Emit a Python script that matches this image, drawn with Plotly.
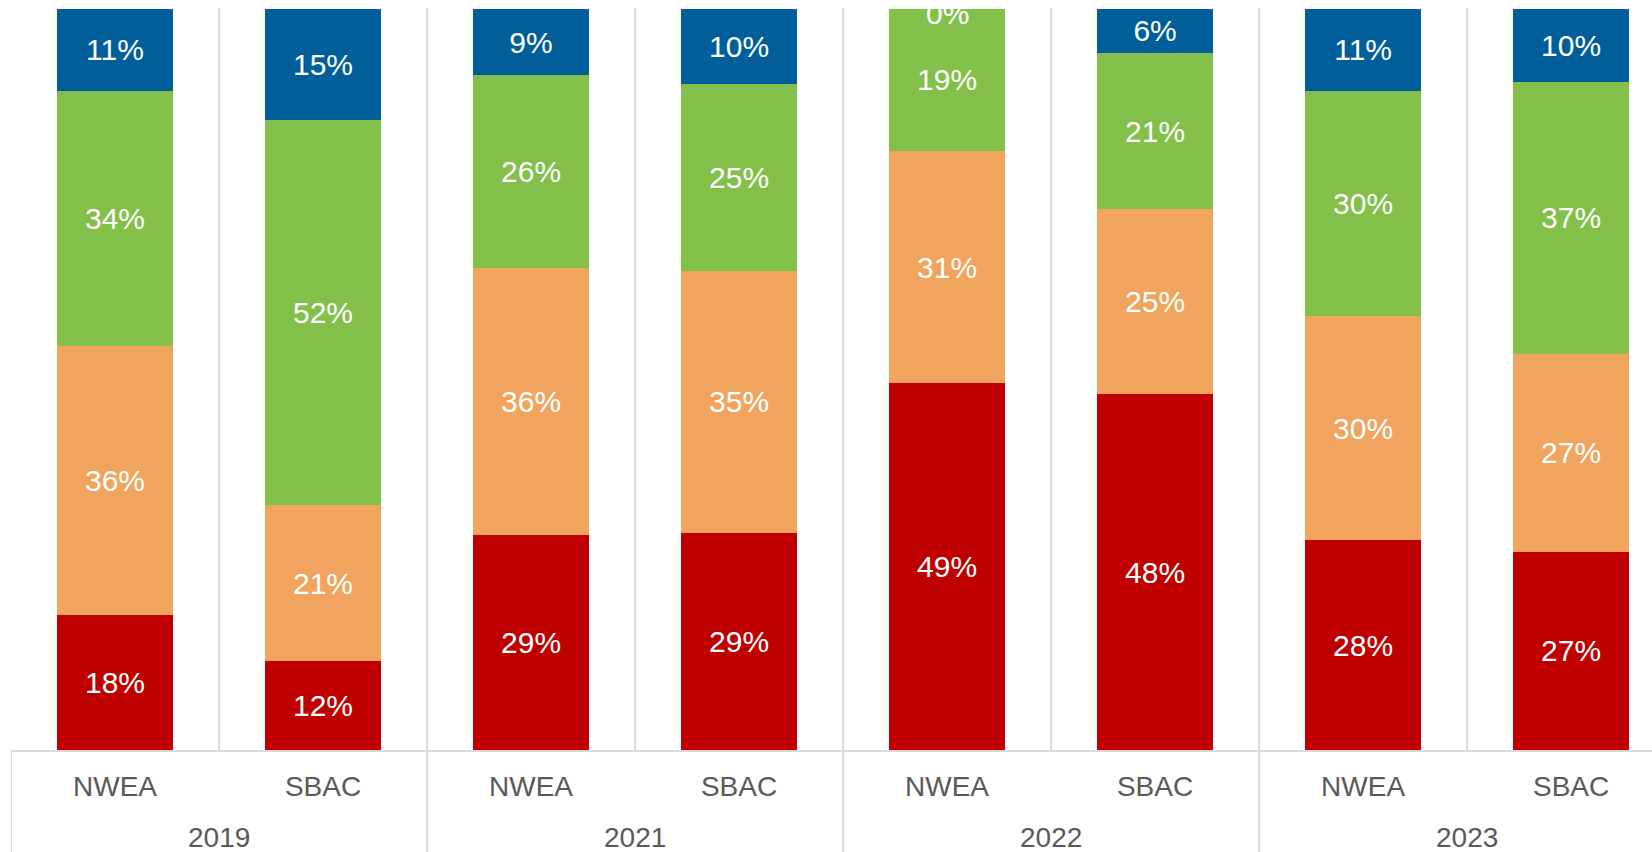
import plotly.graph_objects as go

# year / test pairs for the two-level x axis
years = ["2019", "2019", "2021", "2021", "2022", "2022", "2023", "2023"]
tests = ["NWEA", "SBAC", "NWEA", "SBAC", "NWEA", "SBAC", "NWEA", "SBAC"]

# share of students per level, bottom to top
red = [18, 12, 29, 29, 49, 48, 28, 27]
orange = [36, 21, 36, 35, 31, 25, 30, 27]
green = [34, 52, 26, 25, 19, 21, 30, 37]
blue = [11, 15, 9, 10, 0, 6, 11, 10]

colors = ["#C00000", "#F0A45E", "#82C04A", "#005E9B"]
font = "Liberation Sans, Arial, sans-serif"
cats = [f"{y} {t}" for y, t in zip(years, tests)]

fig = go.Figure()
for vals, col in zip([red, orange, green, blue], colors):
    fig.add_trace(go.Bar(
        x=cats,
        y=vals,
        marker=dict(color=col, line=dict(width=0)),
        text=[f"{v}%" if v > 0 else "" for v in vals],
        textposition="inside",
        insidetextanchor="middle",
        textangle=0,
        textfont=dict(color="white", size=30, family=font),
        cliponaxis=False,
        showlegend=False,
    ))

# zero-height segment still carries its label at the top of the stack
for c, v in zip(cats, blue):
    if v == 0:
        fig.add_annotation(
            x=c, xref="x", y=1, yref="y", yshift=-5,
            text=f"{v}%", showarrow=False,
            font=dict(color="white", size=30, family=font),
        )

plot_h = 852 - 8 - 102

# year labels and group dividers under the test names
groups = list(dict.fromkeys(years))
for g in groups:
    idx = [k for k, y in enumerate(years) if y == g]
    fig.add_annotation(
        x=sum(idx) / len(idx), xref="x",
        y=-87 / plot_h, yref="paper", yanchor="middle",
        text=g, showarrow=False,
        font=dict(size=28, color="#595959", family=font),
    )
    fig.add_shape(
        type="line", xref="x", yref="paper",
        x0=idx[0] - 0.5, x1=idx[0] - 0.5, y0=0, y1=-110 / plot_h,
        line=dict(color="#D9D9D9", width=2),
    )

fig.update_layout(
    barmode="stack",
    barnorm="fraction",
    bargap=0.44,
    width=1652,
    height=852,
    margin=dict(l=11, r=0, t=8, b=102),
    plot_bgcolor="white",
    paper_bgcolor="white",
    uniformtext=dict(minsize=30, mode="show"),
    font=dict(family=font, color="#595959"),
)
fig.update_xaxes(
    type="category",
    range=[-0.5, 7.389],
    tickson="boundaries",
    tickvals=cats,
    ticktext=tests,
    ticks="",
    ticklabelstandoff=10,
    showgrid=True,
    gridcolor="#D9D9D9",
    gridwidth=2,
    showline=True,
    linecolor="#D9D9D9",
    linewidth=2,
    tickfont=dict(size=28, color="#595959", family=font),
)
fig.update_yaxes(range=[0, 1.001], visible=False, showgrid=False)

fig.write_html(
    "out.html",
    config={"displayModeBar": False},
    post_script="document.body.style.margin = '0';",
)
